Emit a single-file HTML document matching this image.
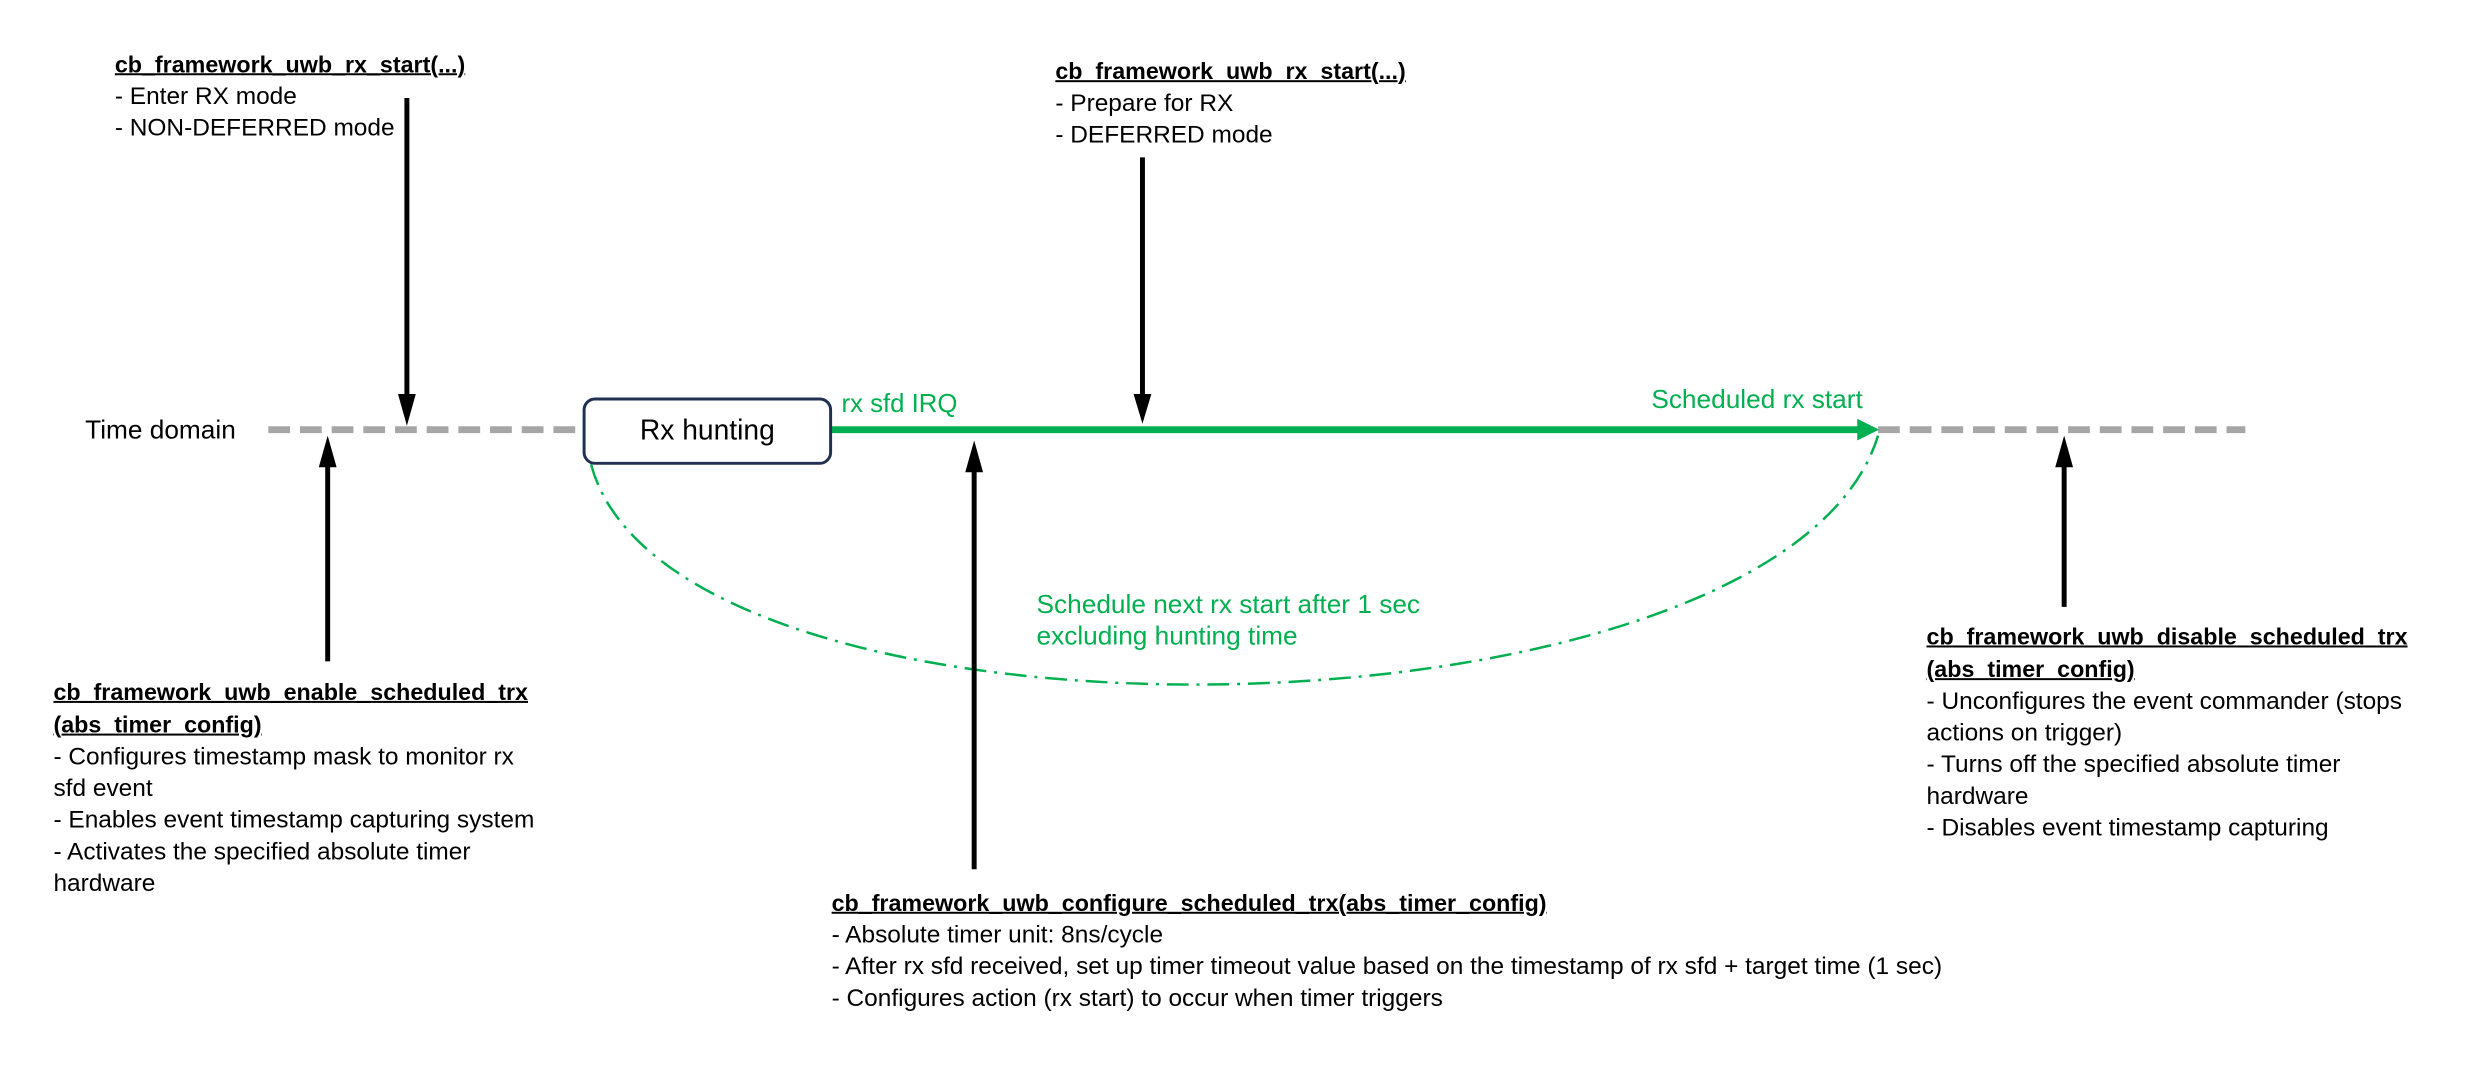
<!DOCTYPE html>
<html><head><meta charset="utf-8"><style>
body{margin:0;width:2470px;height:1078px;background:#fff;position:relative;overflow:hidden;font-family:"Liberation Sans",sans-serif;color:#000}
#w{position:absolute;left:0;top:0;width:2500px;height:1090px;transform:scale(0.99);transform-origin:0 0;font-size:24.7px}
.t{position:absolute;line-height:32px;white-space:nowrap}
.t b{text-decoration:underline;text-decoration-thickness:2px;font-size:23.5px}
.g{color:#00b050}
</style></head><body><div id="w">
<svg width="2500" height="1090" style="position:absolute;left:0;top:0">
<line x1="271" y1="434" x2="589" y2="434" stroke="#a6a6a6" stroke-width="7" stroke-dasharray="22,10"/>
<line x1="1897" y1="434" x2="2268" y2="434" stroke="#a6a6a6" stroke-width="7" stroke-dasharray="22,10"/>
<line x1="839" y1="434" x2="1880" y2="434" stroke="#00b050" stroke-width="7"/>
<path d="M1876,423 L1898,434 L1876,445 z" fill="#00b050"/>
<path d="M597,469 C680,780 1800,760 1897,440" fill="none" stroke="#00b050" stroke-width="2.5" stroke-dasharray="22,8,3,8"/>
<rect x="590" y="403" width="249" height="65" rx="11" fill="#fff" stroke="#1f3050" stroke-width="3"/>
<g stroke="#000" stroke-width="5">
<line x1="411" y1="99" x2="411" y2="400"/>
<line x1="1154" y1="159" x2="1154" y2="400"/>
<line x1="331" y1="668" x2="331" y2="470"/>
<line x1="984" y1="878" x2="984" y2="475"/>
<line x1="2085" y1="613" x2="2085" y2="470"/>
</g>
<g fill="#000">
<path d="M402,398 L420,398 L411,430 z"/>
<path d="M1145,398 L1163,398 L1154,428 z"/>
<path d="M322,472 L340,472 L331,440 z"/>
<path d="M975,477 L993,477 L984,445 z"/>
<path d="M2076,472 L2094,472 L2085,440 z"/>
</g>
</svg>
<div class="t" style="top:403px;left:590px;width:249px;height:65px;line-height:65px;text-align:center;font-size:28.5px">Rx hunting</div>
<div class="t" style="left:86px;top:418px;font-size:26.5px">Time domain</div>
<div class="t g" style="left:850px;top:391px;font-size:26px">rx sfd IRQ</div>
<div class="t g" style="left:1668px;top:387px;font-size:26.5px">Scheduled rx start</div>
<div class="t g" style="left:1047px;top:594px;font-size:26.5px">Schedule next rx start after 1 sec<br>excluding hunting time</div>
<div class="t" style="left:116px;top:49px"><b>cb_framework_uwb_rx_start(...)</b><br>- Enter RX mode<br>- NON-DEFERRED mode</div>
<div class="t" style="left:1066px;top:56px"><b>cb_framework_uwb_rx_start(...)</b><br>- Prepare for RX<br>- DEFERRED mode</div>
<div class="t" style="left:54px;top:683px"><b>cb_framework_uwb_enable_scheduled_trx</b><br><b>(abs_timer_config)</b><br>- Configures timestamp mask to monitor rx<br>sfd event<br>- Enables event timestamp capturing system<br>- Activates the specified absolute timer<br>hardware</div>
<div class="t" style="left:840px;top:896px"><b>cb_framework_uwb_configure_scheduled_trx(abs_timer_config)</b><br>- Absolute timer unit: 8ns/cycle<br>- After rx sfd received, set up timer timeout value based on the timestamp of rx sfd + target time (1 sec)<br>- Configures action (rx start) to occur when timer triggers</div>
<div class="t" style="left:1946px;top:627px"><b>cb_framework_uwb_disable_scheduled_trx</b><br><b>(abs_timer_config)</b><br>- Unconfigures the event commander (stops<br>actions on trigger)<br>- Turns off the specified absolute timer<br>hardware<br>- Disables event timestamp capturing</div>
</div></body></html>
